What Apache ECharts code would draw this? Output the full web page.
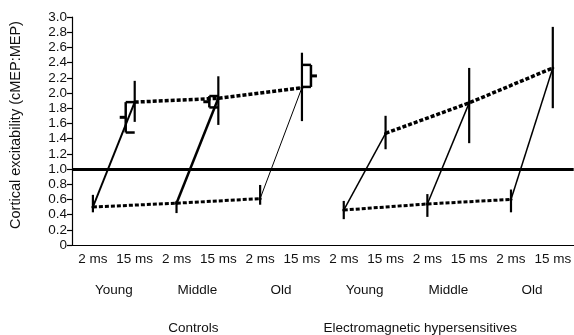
<!DOCTYPE html>
<html>
<head>
<meta charset="utf-8">
<script src="https://cdn.jsdelivr.net/npm/echarts@6/dist/echarts.min.js"></script>
<style>
  html, body { margin: 0; padding: 0; background: #fff; }
  #chart { width: 574px; height: 335px; }
</style>
</head>
<body>
<div id="chart"></div>
<script>
// categories
const msLabels = ['2 ms', '15 ms', '2 ms', '15 ms', '2 ms', '15 ms', '2 ms', '15 ms', '2 ms', '15 ms', '2 ms', '15 ms'];
const ageGroups = ['Young', 'Middle', 'Old', 'Young', 'Middle', 'Old'];
const subjects = ['Controls', 'Electromagnetic hypersensitives'];

// means (index into msLabels, value)
const ctrl2 = [[0, 0.50], [2, 0.55], [4, 0.61]];
const ctrl15 = [[1, 1.88], [3, 1.93], [5, 2.07]];
const ehs2 = [[6, 0.46], [8, 0.54], [10, 0.60]];
const ehs15 = [[7, 1.47], [9, 1.87], [11, 2.33]];

// error bars: [index, low, high]
const errBars = [
  [0, 0.43, 0.66], [1, 1.62, 2.16],
  [2, 0.42, 0.58], [3, 1.58, 2.22],
  [4, 0.53, 0.79], [5, 1.63, 2.53],
  [6, 0.34, 0.58], [7, 1.26, 1.70],
  [8, 0.37, 0.67], [9, 1.34, 2.33],
  [10, 0.43, 0.73], [11, 1.80, 2.87]
];

// offset brackets drawn next to some 15 ms points: [index, low, high, side]
const braces = [[1, 1.48, 1.88, -1], [3, 1.81, 1.96, -1], [5, 2.08, 2.37, 1]];

// widths of the 2 ms -> 15 ms connecting lines per group
const pairWidths = [2, 2.5, 1, 1.5, 1.5, 1.5];

const font = 'Liberation Sans, Arial, sans-serif';
const fs = 13.5;
const chart = echarts.init(document.getElementById('chart'), null, { renderer: 'canvas' });

let series = [];
series.push({
  type: 'line', data: ctrl2, symbol: 'circle', symbolSize: 3, itemStyle: { color: '#000' },
  lineStyle: { color: '#000', width: 3, type: [4, 2] },
  markLine: {
    silent: true, symbol: 'none', label: { show: false },
    lineStyle: { color: '#000', width: 3, type: 'solid' },
    data: [{ yAxis: 1.0 }]
  }
});
series.push({ type: 'line', data: ctrl15, symbol: 'circle', symbolSize: 3, itemStyle: { color: '#000' }, lineStyle: { color: '#000', width: 3.5, type: [4, 2] } });
series.push({ type: 'line', data: ehs2, symbol: 'circle', symbolSize: 3, itemStyle: { color: '#000' }, lineStyle: { color: '#000', width: 3, type: [4, 2] } });
series.push({ type: 'line', data: ehs15, symbol: 'circle', symbolSize: 3, itemStyle: { color: '#000' }, lineStyle: { color: '#000', width: 3.5, type: [4, 2] } });

const lows = ctrl2.concat(ehs2);
const highs = ctrl15.concat(ehs15);
for (let i = 0; i < 6; i++) {
  series.push({
    type: 'line', data: [lows[i], highs[i]], symbol: 'none', z: 3,
    lineStyle: { color: '#000', width: pairWidths[i] }
  });
}

series.push({
  type: 'custom', data: errBars, z: 4,
  renderItem: function (params, api) {
    const lo = api.coord([api.value(0), api.value(1)]);
    const hi = api.coord([api.value(0), api.value(2)]);
    return { type: 'line', shape: { x1: lo[0], y1: lo[1], x2: hi[0], y2: hi[1] }, style: { stroke: '#000', lineWidth: 2.2 } };
  }
});

series.push({
  type: 'custom', data: braces, z: 4,
  renderItem: function (params, api) {
    const side = api.value(3);
    const lo = api.coord([api.value(0), api.value(1)]);
    const hi = api.coord([api.value(0), api.value(2)]);
    const mid = (lo[1] + hi[1]) / 2;
    const vx = lo[0] + side * 9;
    const st = { stroke: '#000', lineWidth: 2.5 };
    return {
      type: 'group', children: [
        { type: 'line', shape: { x1: vx, y1: lo[1], x2: vx, y2: hi[1] }, style: st },
        { type: 'line', shape: { x1: vx, y1: lo[1], x2: lo[0], y2: lo[1] }, style: st },
        { type: 'line', shape: { x1: vx, y1: hi[1], x2: lo[0], y2: hi[1] }, style: st },
        { type: 'line', shape: { x1: vx, y1: mid, x2: vx + side * 6, y2: mid }, style: { stroke: '#000', lineWidth: 3 } }
      ]
    };
  }
});

const option = {
  animation: false,
  textStyle: { fontFamily: font },
  grid: { left: 70, right: -2, top: 17, bottom: 90 },
  xAxis: [
    {
      type: 'category', data: msLabels, position: 'bottom', boundaryGap: true,
      axisLine: { lineStyle: { color: '#000', width: 1.2 } },
      axisTick: { length: 31, interval: 0, lineStyle: { color: '#000', width: 1.2 } },
      axisLabel: { interval: 0, margin: 7, fontSize: fs, color: '#111' }
    },
    {
      type: 'category', data: msLabels, position: 'bottom', boundaryGap: true,
      axisLine: { show: false },
      axisTick: { inside: true, length: 3, interval: 0, lineStyle: { color: '#000', width: 1.2 } },
      axisLabel: { show: false }
    },
    {
      type: 'category', data: ageGroups, position: 'bottom', boundaryGap: true,
      axisLine: { show: false },
      axisTick: { length: 61, interval: 0, lineStyle: { color: '#000', width: 1.2 } },
      axisLabel: { interval: 0, margin: 38, fontSize: fs, color: '#111' }
    },
    {
      type: 'category', data: subjects, position: 'bottom', boundaryGap: true,
      axisLine: { show: false },
      axisTick: { length: 61, interval: 0, lineStyle: { color: '#000', width: 2.5 } },
      axisLabel: {
        interval: 0, margin: 76, fontSize: fs, color: '#111',
        formatter: function (v, i) { return i === 0 ? '{a|' + v + '}' : '{b|' + v + '}'; },
        rich: {
          a: { fontSize: fs, color: '#111', padding: [0, 8, 0, 0] },
          b: { fontSize: fs, color: '#111', padding: [0, 56, 0, 0] }
        }
      }
    }
  ],
  yAxis: {
    type: 'value', min: 0, max: 3, interval: 0.2,
    name: 'Cortical excitability (cMEP:MEP)', nameLocation: 'middle', nameGap: 49,
    nameTextStyle: { fontSize: 14.5, color: '#111', padding: [0, 0, 0, 12] },
    axisLine: { show: true, lineStyle: { color: '#000', width: 1.2 } },
    axisTick: { show: true, length: 5, lineStyle: { color: '#000', width: 1.2 } },
    splitLine: { show: false },
    axisLabel: {
      margin: 5, fontSize: fs, color: '#111',
      formatter: function (v) { return v === 0 ? '0' : v.toFixed(1); }
    }
  },
  series: series
};
chart.setOption(option);
</script>
</body>
</html>
